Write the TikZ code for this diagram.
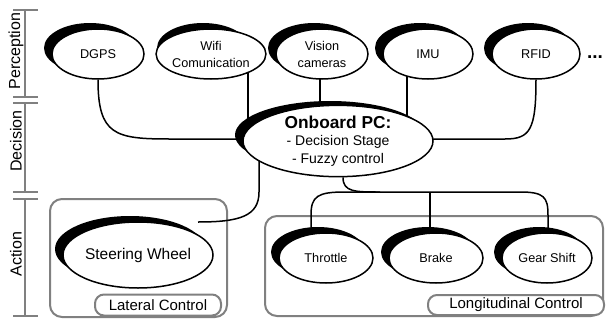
\documentclass[tikz,border=0pt]{standalone}
\usepackage{fontspec}
\setmainfont{Liberation Sans}
\usetikzlibrary{shapes.geometric}
\pgfdeclarelayer{boxes}
\pgfdeclarelayer{conn}
\pgfsetlayers{boxes,conn,main}
\definecolor{scalegray}{RGB}{128,128,128}
% #1 name, #2 x, #3 y, #4 rx, #5 ry, #6 options, #7 text
\newcommand\ellnode[7]{%
  \fill[black] (#2-8,#3-6) ellipse [x radius=#4, y radius=#5];
  \node[elli, minimum width=2*#4 pt, minimum height=2*#5 pt, #6] (#1) at (#2,#3) {#7};}
\begin{document}
\begin{tikzpicture}[x=1pt,y=-1pt,
  elli/.style={ellipse, draw=black, line width=1.5pt, fill=white, inner sep=0pt, align=center},
  sens/.style={font=\fontsize{12.7}{17}\selectfont},
  wire/.style={line width=1.5pt, black},
  grp/.style={draw=scalegray, line width=2pt, rounded corners=12pt},
  pill/.style={draw=scalegray, line width=2pt, rounded corners=9pt, fill=white, inner sep=0pt,
    font=\fontsize{15}{17}\selectfont},
  scl/.style={draw=scalegray, line width=2pt},
  scltxt/.style={font=\fontsize{16}{18}\selectfont, rotate=90}
]
\useasboundingbox (0,0) rectangle (606,322);

% left scale
\draw[scl] (13,10) -- (38,10) (25,10) -- (25,97) (13,97) -- (38,97);
\draw[scl] (13,103) -- (38,103) (25,103) -- (25,192) (13,192) -- (38,192);
\draw[scl] (13,199) -- (38,199) (25,199) -- (25,316) (13,316) -- (38,316);
\node[scltxt] (lper) at (16,51) {Perception};
\node[scltxt] (ldec) at (16,141) {Decision};
\node[scltxt] (lact) at (16,254) {Action};

% group boxes
\begin{pgfonlayer}{boxes}
\draw[grp] (50,199) rectangle (227,317);
\draw[grp] (265,216) rectangle (603,316);
\end{pgfonlayer}
\node[pill, minimum width=126pt, minimum height=21pt] (latl) at (158,305) {Lateral Control};
\node[pill, minimum width=176pt, minimum height=20pt] (lonl) at (516,305) {Longitudinal Control};

% sensors
\ellnode{dgps}{98}{54}{46}{25}{sens}{DGPS}
\ellnode{wifi}{211}{54}{46}{25}{sens}{Wifi\\Comunication}
\ellnode{vis}{322}{54}{46}{25}{sens}{Vision\\cameras}
\ellnode{imu}{428}{54}{45}{25}{sens}{IMU}
\ellnode{rfid}{536}{54}{44}{25}{sens}{RFID}
\node[font=\fontsize{19}{19}\selectfont\bfseries] (dots) at (595,57) {...};

% onboard PC
\ellnode{pc}{338}{141}{95}{34}{font=\fontsize{14}{17.5}\selectfont}
  {{\fontsize{17.3}{19}\selectfont\bfseries Onboard PC:}\\
   - Decision Stage\\
   - Fuzzy control}

% actuators
\ellnode{steer}{138}{255}{75}{33}{font=\fontsize{15.5}{18}\selectfont}{Steering Wheel}
\ellnode{thr}{326}{258}{47}{25}{sens}{Throttle}
\ellnode{brake}{436}{258}{47}{25}{sens}{Brake}
\ellnode{gear}{547}{258}{45}{25}{sens}{Gear Shift}

% connectors
\begin{pgfonlayer}{conn}
\draw[wire] (dgps.south) .. controls (98,135) and (115,139) .. (170,139) -- (pc.center |- 0,139);
\draw[wire] ([xshift=37pt]wifi.center) -- ([xshift=37pt]wifi.center |- pc.center);
\draw[wire] ([xshift=-2pt]vis.center) -- ([xshift=-2pt]vis.center |- pc.center);
\draw[wire] ([xshift=-21pt]imu.center) -- ([xshift=-21pt]imu.center |- pc.center);
\draw[wire] (rfid.south) .. controls (536,130) and (530,139) .. (505,139) -- (pc.center |- 0,139);
\draw[wire] ([xshift=-79pt]pc.center) -- (259,192) .. controls (259,216) and (240,222) .. ([shift={(60,-33)}]steer.center);
\draw[wire] ([xshift=5pt]pc.south) .. controls (343,192) and (355,192) .. (380,192);
\draw[wire] ([xshift=-15pt]thr.center) -- (311,215) .. controls (311,196) and (318,192) .. (345,192)
  -- (520,192) .. controls (544,192) and (548,197) .. (548,215) -- ([xshift=1pt]gear.center);
\draw[wire] (430,192) -- ([xshift=-6pt]brake.center);
\end{pgfonlayer}
\end{tikzpicture}
\end{document}
